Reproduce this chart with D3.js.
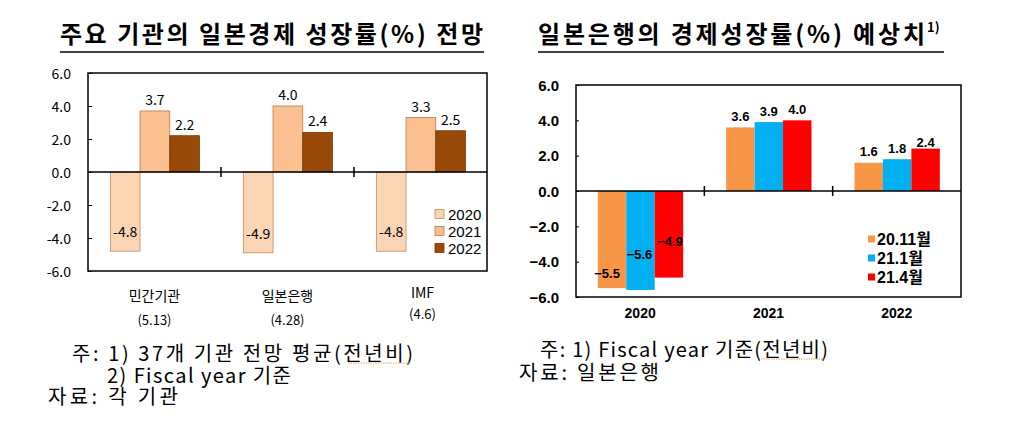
<!DOCTYPE html>
<html><head><meta charset="utf-8">
<script src="https://cdn.jsdelivr.net/npm/d3@7"></script>
<style>
html,body{margin:0;padding:0;background:#fff;}
svg{display:block;}
text{font-family:"Noto Sans CJK KR","Noto Sans",sans-serif;fill:#000;}
</style></head>
<body>
<svg id="c" width="1024" height="423"></svg>
<script>
// ---- data: left chart ----
const leftCategories = ["민간기관", "일본은행", "IMF"];
const leftDates = ["(5.13)", "(4.28)", "(4.6)"];
const leftSeries = ["2020", "2021", "2022"];
const leftValues = [
  [-4.8, 3.7, 2.2],
  [-4.9, 4.0, 2.4],
  [-4.8, 3.3, 2.5]
];
// ---- data: right chart ----
const rightCategories = ["2020", "2021", "2022"];
const rightSeries = ["20.11월", "21.1월", "21.4월"];
const rightValues = [
  [-5.5, -5.6, -4.9],
  [3.6, 3.9, 4.0],
  [1.6, 1.8, 2.4]
];
const yTicks = [-6, -4, -2, 0, 2, 4, 6];

const leftColors = ["#FCD5B5", "#FAC090", "#984807"];
const leftStroke = ["#C38A5E", "#B9794A", "#7A3A06"];
const rightColors = ["#F79646", "#00B0F0", "#FF0000"];

const svg = d3.select("#c");
const fmtH = v => (v < 0 ? "-" : "") + Math.abs(v).toFixed(1);      // hyphen minus
const fmtM = v => (v < 0 ? "\u2212" : "") + Math.abs(v).toFixed(1); // long minus
const SANS = "'Liberation Sans','Noto Sans CJK KR',sans-serif";

// ================= LEFT CHART =================
(function(){
  const L = {x0: 88, x1: 487, y0: 73, y1: 271};
  const y = d3.scaleLinear().domain([-6, 6]).range([L.y1, L.y0]);
  const x0 = d3.scaleBand().domain(leftCategories).range([L.x0, L.x1]);
  const bw = x0.bandwidth();
  const x1 = d3.scaleBand().domain(leftSeries).range([bw*0.168, bw*0.838]);
  const g = svg.append("g");

  // title
  g.append("text").attr("x", 60).attr("y", 43).attr("font-size", 24).attr("font-weight", "bold")
    .attr("textLength", 423).attr("lengthAdjust", "spacing")
    .text("주요 기관의 일본경제 성장률(%) 전망");
  g.append("line").attr("x1", 60).attr("x2", 484).attr("y1", 52).attr("y2", 52)
    .attr("stroke", "#000").attr("stroke-width", 1.5);

  // bars
  leftCategories.forEach((c, i) => {
    leftSeries.forEach((s, j) => {
      const v = leftValues[i][j];
      g.append("rect")
        .attr("x", x0(c) + x1(s)).attr("width", x1.bandwidth())
        .attr("y", y(Math.max(0, v))).attr("height", Math.abs(y(v) - y(0)))
        .attr("fill", leftColors[j]).attr("stroke", leftStroke[j]).attr("stroke-width", 0.8);
      const cx = x0(c) + x1(s) + x1.bandwidth()/2;
      const ty = v >= 0 ? y(v) - 12 : y(v) - 20;
      g.append("text").attr("x", cx).attr("y", ty).attr("text-anchor", "middle")
        .attr("dominant-baseline", "central").attr("font-size", 14).text(fmtH(v));
    });
  });

  // frame
  g.append("rect").attr("x", L.x0).attr("y", L.y0).attr("width", L.x1 - L.x0).attr("height", L.y1 - L.y0)
    .attr("fill", "none").attr("stroke", "#000").attr("stroke-width", 1.5);
  g.append("line").attr("x1", L.x0).attr("x2", L.x1).attr("y1", y(0)).attr("y2", y(0))
    .attr("stroke", "#000").attr("stroke-width", 1.3);
  leftCategories.slice(1).forEach(c => {
    g.append("line").attr("x1", x0(c)).attr("x2", x0(c)).attr("y1", y(0) - 5).attr("y2", y(0) + 5)
      .attr("stroke", "#000").attr("stroke-width", 1.5);
  });
  const ax = g.append("g").attr("transform", `translate(${L.x0},0)`)
    .call(d3.axisRight(y).tickValues(yTicks).tickSize(4).tickFormat(""));
  ax.select(".domain").remove();
  ax.selectAll("line").attr("stroke", "#000");
  yTicks.forEach(t => {
    g.append("text").attr("x", 71).attr("y", y(t)).attr("text-anchor", "end")
      .attr("dominant-baseline", "central").attr("font-size", 14).text(fmtH(t));
  });
  // category labels
  const catDy = [0, 0, -3];
  leftCategories.forEach((c, i) => {
    const cx = x0(c) + bw/2 + (i === 2 ? 2 : 0);
    g.append("text").attr("x", cx).attr("y", 295 + catDy[i]).attr("text-anchor", "middle")
      .attr("dominant-baseline", "central").attr("font-size", 14).text(c);
    g.append("text").attr("x", cx).attr("y", 319 + catDy[i]*2).attr("text-anchor", "middle")
      .attr("dominant-baseline", "central").attr("font-size", 13).text(leftDates[i]);
  });
  // legend
  leftSeries.forEach((s, j) => {
    const ly = 214 + j*17;
    g.append("rect").attr("x", 435).attr("y", ly - 4.5).attr("width", 9).attr("height", 9)
      .attr("fill", leftColors[j]).attr("stroke", leftStroke[j]).attr("stroke-width", 0.8);
    g.append("text").attr("x", 448).attr("y", ly).attr("dominant-baseline", "central")
      .attr("font-size", 15).style("font-family", SANS).text(s);
  });
  // notes
  g.append("text").attr("x", 72).attr("y", 352).attr("dominant-baseline", "central").attr("font-size", 20)
    .attr("textLength", 341).attr("lengthAdjust", "spacing").text("주: 1) 37개 기관 전망 평균(전년비)");
  g.append("line").attr("x1", 348).attr("x2", 411).attr("y1", 363).attr("y2", 363)
    .attr("stroke", "#E0A060").attr("stroke-width", 1).attr("stroke-dasharray", "1.5,1");
  g.append("text").attr("x", 107).attr("y", 374).attr("dominant-baseline", "central").attr("font-size", 20)
    .attr("textLength", 184).attr("lengthAdjust", "spacing").text("2) Fiscal year 기준");
  g.append("text").attr("x", 48).attr("y", 395).attr("dominant-baseline", "central").attr("font-size", 20)
    .attr("textLength", 130).attr("lengthAdjust", "spacing").text("자료: 각 기관");
})();

// ================= RIGHT CHART =================
(function(){
  const R = {x0: 576, x1: 961, y0: 85, y1: 297};
  const y = d3.scaleLinear().domain([-6, 6]).range([R.y1, R.y0]);
  const x0 = d3.scaleBand().domain(rightCategories).range([R.x0, R.x1]);
  const bw = x0.bandwidth();
  const x1 = d3.scaleBand().domain(rightSeries).range([bw*0.17, bw*0.835]);
  const g = svg.append("g");

  // title
  g.append("text").attr("x", 538).attr("y", 43).attr("font-size", 24).attr("font-weight", "bold")
    .attr("textLength", 387).attr("lengthAdjust", "spacing")
    .text("일본은행의  경제성장률(%) 예상치");
  g.append("text").attr("x", 927).attr("y", 32).attr("font-size", 13).attr("font-weight", "bold").text("1)");
  g.append("line").attr("x1", 538).attr("x2", 944).attr("y1", 52).attr("y2", 52)
    .attr("stroke", "#000").attr("stroke-width", 1.5);

  // label placement for negative bars (manually placed in original)
  const negOffset = [15, 35, 36];
  const negDx = [-5, -1, 1];

  rightCategories.forEach((c, i) => {
    rightSeries.forEach((s, j) => {
      const v = rightValues[i][j];
      g.append("rect")
        .attr("x", x0(c) + x1(s)).attr("width", x1.bandwidth())
        .attr("y", y(Math.max(0, v))).attr("height", Math.abs(y(v) - y(0)))
        .attr("fill", rightColors[j]);
      let cx = x0(c) + x1(s) + x1.bandwidth()/2;
      let ty;
      if (v >= 0) { ty = y(v) - (i === 2 && j === 2 ? 6 : 11); }
      else { ty = y(v) - negOffset[j]; cx += negDx[j]; }
      g.append("text").attr("x", cx).attr("y", ty).attr("text-anchor", "middle")
        .attr("dominant-baseline", "central").attr("font-size", 13)
        .style("font-family", SANS).style("font-weight", "bold")
        .text(fmtM(v));
    });
  });

  // frame
  g.append("rect").attr("x", R.x0).attr("y", R.y0).attr("width", R.x1 - R.x0).attr("height", R.y1 - R.y0)
    .attr("fill", "none").attr("stroke", "#000").attr("stroke-width", 1.5);
  g.append("line").attr("x1", R.x0).attr("x2", R.x1).attr("y1", y(0)).attr("y2", y(0))
    .attr("stroke", "#000").attr("stroke-width", 1.3);
  rightCategories.slice(1).forEach(c => {
    g.append("line").attr("x1", x0(c)).attr("x2", x0(c)).attr("y1", y(0) - 5).attr("y2", y(0) + 5)
      .attr("stroke", "#000").attr("stroke-width", 1.5);
  });
  const ax = g.append("g").attr("transform", `translate(${R.x0},0)`)
    .call(d3.axisRight(y).tickValues(yTicks).tickSize(3).tickFormat(""));
  ax.select(".domain").remove();
  ax.selectAll("line").attr("stroke", "#000");
  yTicks.forEach(t => {
    g.append("text").attr("x", 559).attr("y", y(t)).attr("text-anchor", "end")
      .attr("dominant-baseline", "central").attr("font-size", 15)
      .style("font-family", SANS).style("font-weight", "bold")
      .text(fmtM(t));
  });
  rightCategories.forEach(c => {
    g.append("text").attr("x", x0(c) + bw/2).attr("y", 313).attr("text-anchor", "middle")
      .attr("dominant-baseline", "central").attr("font-size", 14)
      .style("font-family", SANS).style("font-weight", "bold").text(c);
  });
  // legend
  rightSeries.forEach((s, j) => {
    const ly = 239 + j*19;
    g.append("rect").attr("x", 868).attr("y", ly - 3.5).attr("width", 7).attr("height", 7)
      .attr("fill", rightColors[j]);
    g.append("text").attr("x", 877).attr("y", ly).attr("dominant-baseline", "central")
      .attr("font-size", 16).style("font-family", SANS)
      .style("font-weight", "bold").text(s);
  });
  // notes
  g.append("text").attr("x", 540).attr("y", 348).attr("dominant-baseline", "central").attr("font-size", 20)
    .attr("textLength", 288).attr("lengthAdjust", "spacing").text("주: 1) Fiscal year 기준(전년비)");
  g.append("line").attr("x1", 761).attr("x2", 824).attr("y1", 359).attr("y2", 359)
    .attr("stroke", "#E0A060").attr("stroke-width", 1).attr("stroke-dasharray", "1.5,1");
  g.append("text").attr("x", 519).attr("y", 371).attr("dominant-baseline", "central").attr("font-size", 20)
    .attr("textLength", 140).attr("lengthAdjust", "spacing").text("자료: 일본은행");
})();
</script>
</body></html>
